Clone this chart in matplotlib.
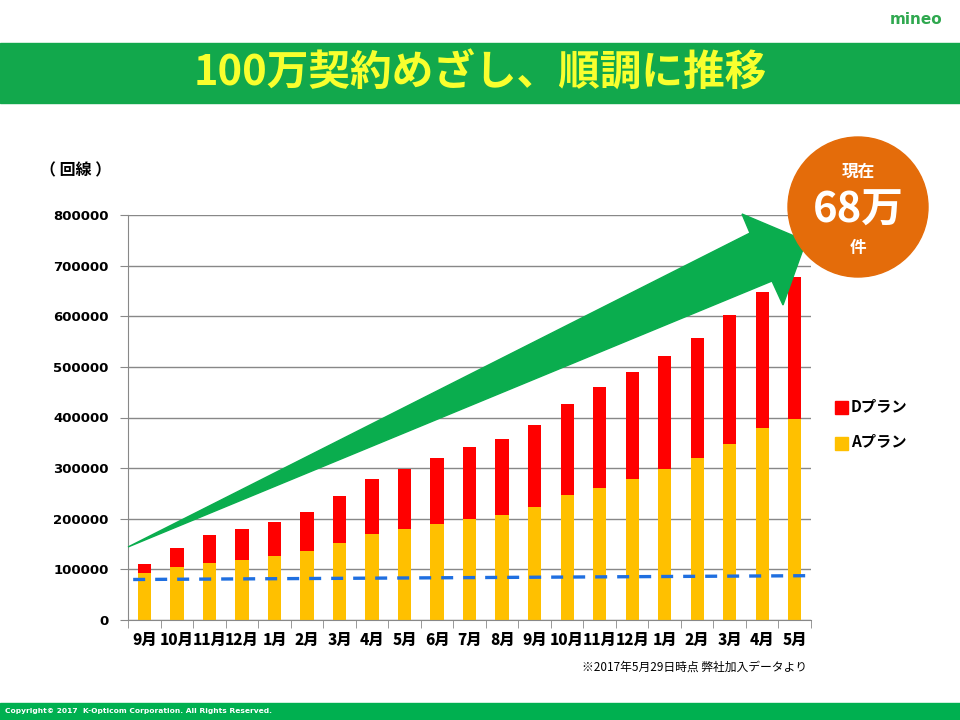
import matplotlib.pyplot as plt
import numpy as np
from matplotlib.patches import Polygon, Circle, Rectangle

# ---- data ----
months = ["9月", "10月", "11月", "12月", "1月", "2月", "3月", "4月", "5月", "6月",
          "7月", "8月", "9月", "10月", "11月", "12月", "1月", "2月", "3月", "4月", "5月"]
a_plan = [92000, 105000, 113000, 118500, 127000, 137000, 153000, 170000, 180000, 190000,
          199500, 207000, 224000, 247500, 261000, 278500, 298000, 320500, 347500, 379000, 397500]
total = [111000, 143000, 168000, 180000, 194000, 213000, 245000, 279000, 299000, 320000,
         342000, 358000, 385000, 427000, 460000, 490000, 521000, 557000, 602000, 648000, 678000]
trend_x = [-0.35, 20.35]
trend_y = [80000, 87500]
yticks = [0, 100000, 200000, 300000, 400000, 500000, 600000, 700000, 800000]

d_plan = [t - a for t, a in zip(total, a_plan)]

JP = ["Noto Sans CJK JP", "DejaVu Sans"]
W, H = 960, 720


def px(x, y):
    # slide pixel -> inches (for dpi_scale_trans)
    return (x / 100.0, (H - y) / 100.0)


fig = plt.figure(figsize=(9.6, 7.2), dpi=100)
fig.patch.set_facecolor("white")

# header band and title
fig.add_artist(Rectangle(px(0, 103), 9.6, 0.60, transform=fig.dpi_scale_trans,
                         color="#12a84c", zorder=0))
fig.text(480 / W, 1 - 73 / H, "100万契約めざし、順調に推移", family=JP, fontsize=30,
         fontweight="bold", color="#f8ff2e", ha="center", va="center")
fig.text(916 / W, 1 - 19 / H, "mineo", family=["DejaVu Sans"], fontsize=11,
         fontweight="bold", color="#2fa84f", ha="center", va="center")

# footer band
fig.add_artist(Rectangle(px(0, 720), 9.6, 0.17, transform=fig.dpi_scale_trans,
                         color="#00b050", zorder=0))
fig.text(5 / W, 1 - 711 / H, "Copyright© 2017  K-Opticom Corporation. All Rights Reserved.",
         fontsize=5.4, fontweight="bold", color="white", ha="left", va="center")

# ---- chart ----
ax = fig.add_axes([128.3 / W, (H - 620) / H, (811 - 128.3) / W, 405 / H])
x = np.arange(len(months))
ax.bar(x, a_plan, width=0.41, color="#ffc000", zorder=2)
ax.bar(x, d_plan, width=0.41, bottom=a_plan, color="#ff0000", zorder=2)
ax.plot(trend_x, trend_y, color="#1f6fe0", lw=2.4, dashes=(3.6, 3.0), zorder=3)

ax.set_xlim(-0.5, len(months) - 0.5)
ax.set_ylim(0, 800000)
ax.set_yticks(yticks)
ax.set_yticklabels([str(v) for v in yticks], fontsize=9.5, fontweight="heavy")
ax.yaxis.grid(True, color="#888888", lw=1)
ax.set_axisbelow(True)
ax.tick_params(axis="y", length=6, color="#888888", pad=8)

ax.set_xticks(x)
ax.set_xticklabels(months, family=JP, fontsize=11, fontweight="heavy")
ax.set_xticks(np.arange(-0.5, len(months)), minor=True)
ax.tick_params(axis="x", which="major", length=0, pad=9)
ax.tick_params(axis="x", which="minor", length=6, color="#888888")
for s in ["top", "right"]:
    ax.spines[s].set_visible(False)
for s in ["left", "bottom"]:
    ax.spines[s].set_color("#888888")

# big green arrow
arrow_pts = [(128, 547), (750, 233), (742, 214), (806, 241), (783, 305), (772, 281)]
fig.add_artist(Polygon([px(a, b) for a, b in arrow_pts], closed=True,
                       transform=fig.dpi_scale_trans, color="#0aad4e", zorder=5))

# orange badge
fig.add_artist(Circle(px(858, 207), 0.70, transform=fig.dpi_scale_trans,
                      color="#e46c0a", zorder=6))
fig.text(858 / W, 1 - 172 / H, "現在", family=JP, fontsize=12, fontweight="bold",
         color="white", ha="center", va="center", zorder=7)
fig.text(858 / W, 1 - 211 / H, "68万", family=JP, fontsize=30, fontweight="bold",
         color="white", ha="center", va="center", zorder=7)
fig.text(858 / W, 1 - 248 / H, "件", family=JP, fontsize=12, fontweight="bold",
         color="white", ha="center", va="center", zorder=7)

# legend
fig.add_artist(Rectangle(px(835, 414), 0.13, 0.13, transform=fig.dpi_scale_trans,
                         color="#ff0000"))
fig.text(851 / W, 1 - 406 / H, "Dプラン", family=JP, fontsize=11, fontweight="bold",
         ha="left", va="center")
fig.add_artist(Rectangle(px(835, 450), 0.13, 0.13, transform=fig.dpi_scale_trans,
                         color="#ffc000"))
fig.text(851 / W, 1 - 441 / H, "Aプラン", family=JP, fontsize=11, fontweight="bold",
         ha="left", va="center")

# unit label and note
fig.text(40 / W, 1 - 170 / H, "（ 回線 ）", family=JP, fontsize=11.5, fontweight="bold",
         ha="left", va="center")
fig.text(695 / W, 1 - 667 / H, "※2017年5月29日時点 弊社加入データより", family=JP,
         fontsize=8.5, ha="center", va="center")

fig.savefig("out.png", dpi=100)
